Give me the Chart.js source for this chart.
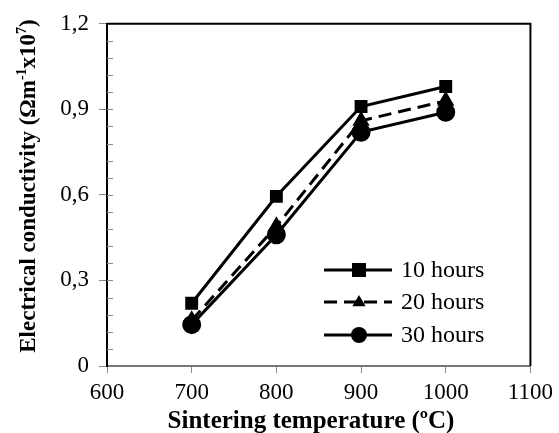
<!DOCTYPE html>
<html>
<head>
<meta charset="utf-8">
<script src="https://cdn.jsdelivr.net/npm/chart.js@4"></script>
<style>
  html, body { margin: 0; padding: 0; background: #fff; }
  #wrap { width: 559px; height: 433px; }
</style>
</head>
<body>
<div id="wrap"><canvas id="grafico" width="559" height="433"></canvas></div>
<script>
// dados
const temperaturas = [700, 800, 900, 1000];
const horas10 = [0.22, 0.595, 0.91, 0.98];
const horas20 = [0.16, 0.49, 0.86, 0.93];
const horas30 = [0.145, 0.46, 0.82, 0.89];
const rotulos = ["10 hours", "20 hours", "30 hours"];
const ticksY = [0, 0.3, 0.6, 0.9, 1.2];
const ticksX = [600, 700, 800, 900, 1000, 1100];

const FONTE = "'Liberation Serif', 'Times New Roman', serif";

function pontos(valores) {
  return temperaturas.map((t, i) => ({ x: t, y: valores[i] }));
}

// moldura superior/direita, ticks menores, títulos com sobrescrito e legenda
const extras = {
  id: "extras",
  afterDraw(chart) {
    const { ctx, chartArea: a, scales } = chart;
    ctx.save();
    ctx.strokeStyle = "#000";
    ctx.lineWidth = 2;
    ctx.beginPath();
    ctx.moveTo(a.left, a.top);
    ctx.lineTo(a.right, a.top);
    ctx.lineTo(a.right, a.bottom);
    ctx.stroke();

    // ticks menores do eixo y (para dentro)
    ctx.strokeStyle = "#8a8a8a";
    ctx.lineWidth = 1;
    for (let v = 0.06; v < 1.2; v += 0.06) {
      const y = Math.round(scales.y.getPixelForValue(v)) + 0.5;
      ctx.beginPath();
      ctx.moveTo(a.left, y);
      ctx.lineTo(a.left + 6, y);
      ctx.stroke();
    }

    // título do eixo x
    ctx.fillStyle = "#000";
    ctx.font = "bold 25px " + FONTE;
    ctx.textAlign = "center";
    ctx.textBaseline = "alphabetic";
    ctx.fillText("Sintering temperature (ºC)", 311, 428);

    // título do eixo y com sobrescritos
    const partes = [
      ["Electrical conductivity (Ωm", false],
      ["-1", true],
      ["x10", false],
      ["7", true],
      [")", false],
    ];
    const normal = "bold 23px " + FONTE;
    const sup = "bold 14px " + FONTE;
    let total = 0;
    partes.forEach(([t, s]) => {
      ctx.font = s ? sup : normal;
      total += ctx.measureText(t).width;
    });
    ctx.translate(35, 186);
    ctx.rotate(-Math.PI / 2);
    ctx.textAlign = "left";
    let x = -total / 2;
    partes.forEach(([t, s]) => {
      ctx.font = s ? sup : normal;
      ctx.fillText(t, x, s ? -9 : 0);
      x += ctx.measureText(t).width;
    });
    ctx.restore();

    // legenda
    ctx.save();
    const yLeg = [270, 302, 335];
    chart.data.datasets.forEach((ds, i) => {
      const y = yLeg[i];
      ctx.strokeStyle = "#000";
      ctx.lineWidth = 3;
      ctx.setLineDash(ds.borderDash || []);
      ctx.beginPath();
      ctx.moveTo(324, y);
      ctx.lineTo(392, y);
      ctx.stroke();
      ctx.setLineDash([]);
      ctx.fillStyle = "#000";
      const r = ds.pointRadius;
      if (ds.pointStyle === "rect") {
        ctx.fillRect(359 - r, y - r, 2 * r, 2 * r);
      } else if (ds.pointStyle === "triangle") {
        ctx.beginPath();
        ctx.moveTo(359, y - r);
        ctx.lineTo(359 + r * 0.95, y + r * 0.6);
        ctx.lineTo(359 - r * 0.95, y + r * 0.6);
        ctx.closePath();
        ctx.fill();
      } else {
        ctx.beginPath();
        ctx.arc(359, y, r, 0, Math.PI * 2);
        ctx.fill();
      }
      ctx.font = "24px " + FONTE;
      ctx.textAlign = "left";
      ctx.textBaseline = "middle";
      ctx.fillText(ds.label, 401, y + 1);
    });
    ctx.restore();
  }
};

new Chart(document.getElementById("grafico"), {
  type: "line",
  data: {
    datasets: [
      {
        label: rotulos[0],
        data: pontos(horas10),
        borderColor: "#000",
        backgroundColor: "#000",
        borderWidth: 3,
        pointStyle: "rect",
        pointRadius: 7,
      },
      {
        label: rotulos[1],
        data: pontos(horas20),
        borderColor: "#000",
        backgroundColor: "#000",
        borderWidth: 3,
        borderDash: [13, 7],
        pointStyle: "triangle",
        pointRadius: 7,
      },
      {
        label: rotulos[2],
        data: pontos(horas30),
        borderColor: "#000",
        backgroundColor: "#000",
        borderWidth: 3,
        pointStyle: "circle",
        pointRadius: 8,
      }
    ]
  },
  options: {
    responsive: false,
    animation: false,
    layout: { padding: { top: 20, right: 27, left: 0, bottom: 0 } },
    plugins: {
      legend: { display: false },
      tooltip: { enabled: false }
    },
    scales: {
      x: {
        type: "linear",
        min: 600,
        max: 1100,
        afterFit(scale) { scale.height = 67; },
        afterBuildTicks(scale) { scale.ticks = ticksX.map(v => ({ value: v })); },
        grid: { display: true, drawOnChartArea: false, drawTicks: true, tickLength: 7, color: "#8a8a8a" },
        border: { display: true, color: "#777", width: 2 },
        ticks: {
          color: "#000",
          font: { family: FONTE, size: 23 },
          padding: 6,
          maxRotation: 0,
          callback: v => String(v)
        }
      },
      y: {
        min: 0,
        max: 1.2,
        afterFit(scale) { scale.width = 107; },
        afterBuildTicks(scale) { scale.ticks = ticksY.map(v => ({ value: v })); },
        grid: { display: true, drawOnChartArea: false, drawTicks: true, tickLength: 8, color: "#8a8a8a" },
        border: { display: true, color: "#000", width: 2 },
        ticks: {
          color: "#000",
          font: { family: FONTE, size: 23 },
          padding: 10,
          callback: v => (v === 0 ? "0" : v.toFixed(1).replace(".", ","))
        }
      }
    }
  },
  plugins: [extras]
});
</script>
</body>
</html>
